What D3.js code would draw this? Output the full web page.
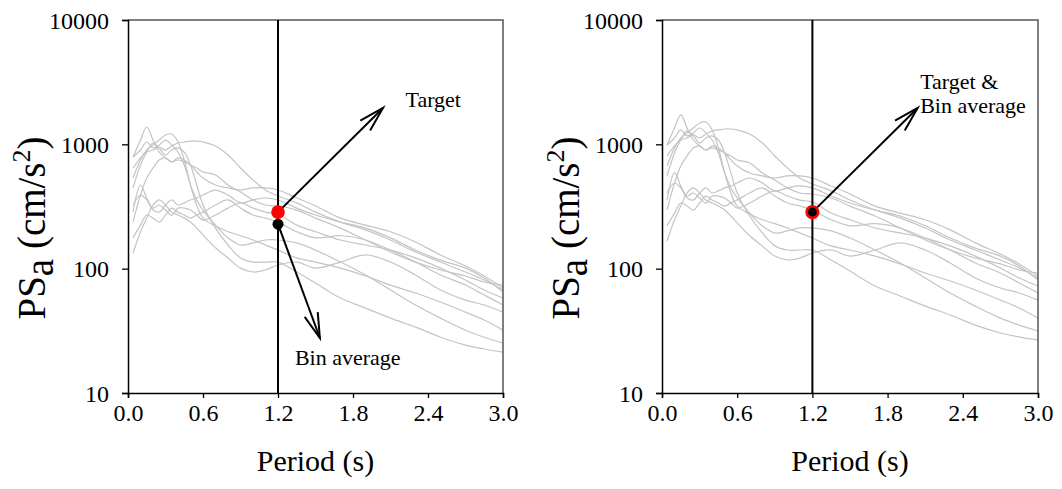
<!DOCTYPE html>
<html>
<head>
<meta charset="utf-8">
<script src="https://cdn.jsdelivr.net/npm/d3@7"></script>
<style>
  body { margin: 0; background: #fff; }
  svg { display: block; }
  text { font-family: "Liberation Serif", "Times New Roman", serif; fill: #000; }
</style>
</head>
<body>
<svg id="chart" width="1062" height="489"></svg>
<script>
// Spectral periods (s) at which each record's pseudo-spectral acceleration is listed
const periods = [0.04, 0.1, 0.15, 0.2, 0.25, 0.3, 0.35, 0.4, 0.45, 0.5, 0.55, 0.6, 0.7, 0.8, 0.9,
                 1.0, 1.1, 1.2, 1.35, 1.5, 1.7, 1.9, 2.1, 2.3, 2.5, 2.7, 2.85, 3.0];

// PSa (cm/s^2) of the recorded ground motions in the bin
const record01 = [645, 777, 867, 900, 952, 900, 970, 1025, 1044, 1063, 1063, 1044, 970, 821, 645,
                  517, 429, 384, 338, 285, 237, 205, 170, 136, 113, 94, 81, 67.3];
const record02 = [791, 1083, 1378, 1083, 867, 777, 721, 748, 721, 682, 599, 536, 471, 446, 429,
                  446, 446, 429, 370, 319, 255, 224, 198, 164, 129, 105, 87.3, 69.8];
const record03 = [536, 748, 900, 988, 1083, 1189, 1211, 1044, 748, 471, 325, 255, 220, 198, 184,
                  170, 155, 141, 122, 113, 101, 87.3, 73.8, 63.7, 53.9, 44.7, 38.6, 32.0];
const record04 = [446, 682, 867, 1025, 935, 821, 900, 935, 867, 682, 471, 325, 212, 155, 122,
                  113, 113, 113, 94, 76.6, 58.0, 48.2, 40.0, 33.9, 28.1, 24.3, 22.6, 21.3];
const record05 = [325, 391, 357, 296, 285, 325, 357, 325, 338, 357, 370, 391, 429, 391, 338,
                  357, 370, 357, 307, 270, 237, 212, 177, 141, 117, 101, 84.1, 64.9];
const record06 = [285, 471, 370, 307, 325, 296, 270, 307, 307, 296, 270, 246, 270, 307, 338,
                  307, 285, 275, 224, 198, 170, 155, 141, 122, 101, 81.0, 67.3, 58.0];
const record07 = [133, 198, 255, 325, 357, 325, 285, 270, 255, 237, 212, 187, 147, 122, 101,
                  94, 97.5, 107, 113, 101, 113, 129, 113, 88.9, 67.3, 55.9, 51.0, 44.7];
const record08 = [177, 224, 270, 255, 237, 270, 307, 285, 270, 255, 270, 285, 325, 357, 307,
                  270, 255, 237, 198, 177, 184, 170, 141, 113, 88.9, 73.8, 61.3, 51.0];
const record09 = [791, 900, 1044, 935, 988, 1083, 988, 867, 682, 471, 357, 296, 224, 177, 155,
                  161, 170, 170, 161, 141, 113, 88.9, 67.3, 51.0, 40.0, 32.0, 28.1, 25.2];
const record10 = [237, 391, 536, 645, 748, 777, 721, 777, 748, 682, 645, 599, 567, 471, 413,
                  357, 325, 319, 296, 255, 212, 170, 136, 113, 97.5, 87.3, 78.1, 73.8];

const records = [record01, record02, record03, record04, record05,
                 record06, record07, record08, record09, record10];

// Conditioning period and the two spectral values compared there
const targetPeriod = 1.2;
const targetPSa = 285;      // target spectrum value (cm/s^2)
const binAveragePSa = 228;  // average of the unscaled records (cm/s^2)

// Axis ticks
const xTicks = [0.0, 0.6, 1.2, 1.8, 2.4, 3.0];
const yTicks = [10, 100, 1000, 10000];

// ---------------------------------------------------------------------------
const svg = d3.select("#chart");
const plotTop = 20, plotBottom = 393;

const panels = [
  { left: 128, right: 503, scale: 1, merged: false,
    callouts: [
      { from: targetPSa, to: [2.04, 1960], lines: ["Target"], at: [2.22, 2000] },
      { from: binAveragePSa, to: [1.535, 27.7], lines: ["Bin average"], at: [1.335, 16.9] }
    ] },
  { left: 662, right: 1038, scale: targetPSa / binAveragePSa, merged: true,
    callouts: [
      { from: targetPSa, to: [2.04, 1960], lines: ["Target &", "Bin average"], at: [2.06, 2780] }
    ] }
];

const line = d3.line().curve(d3.curveCatmullRom.alpha(0.5));

function arrow(g, x1, y1, x2, y2) {
  const ang = Math.atan2(y1 - y2, x1 - x2);
  const len = 26, spread = 0.27;
  g.append("line").attr("x1", x1).attr("y1", y1).attr("x2", x2).attr("y2", y2)
    .attr("stroke", "#000").attr("stroke-width", 2);
  g.append("path")
    .attr("d", `M${x2 + len * Math.cos(ang - spread)},${y2 + len * Math.sin(ang - spread)}` +
               `L${x2},${y2}` +
               `L${x2 + len * Math.cos(ang + spread)},${y2 + len * Math.sin(ang + spread)}`)
    .attr("fill", "none").attr("stroke", "#000").attr("stroke-width", 2);
}

panels.forEach((p, i) => {
  const x = d3.scaleLinear().domain([0, 3]).range([p.left, p.right]);
  const y = d3.scaleLog().domain([10, 10000]).range([plotBottom, plotTop]);
  const g = svg.append("g");

  const clipId = "clip" + i;
  g.append("clipPath").attr("id", clipId)
    .append("rect").attr("x", p.left).attr("y", plotTop)
    .attr("width", p.right - p.left).attr("height", plotBottom - plotTop);

  // Spectra of the individual records (scaled on the right panel)
  g.append("g").attr("clip-path", `url(#${clipId})`)
    .selectAll("path").data(records).join("path")
    .attr("d", r => line(r.map((v, k) => [x(periods[k]), y(v * p.scale)])))
    .attr("fill", "none").attr("stroke", "#c4c4c4").attr("stroke-width", 1.2);

  // Frame
  g.append("path")
    .attr("d", `M${p.left},${plotTop}H${p.right}V${plotBottom}`)
    .attr("fill", "none").attr("stroke", "#555").attr("stroke-width", 1.5);

  // Axes
  const xAxis = d3.axisBottom(x).tickValues(xTicks).tickSize(5).tickPadding(6)
    .tickFormat(d3.format(".1f"));
  const gx = g.append("g").attr("transform", `translate(0,${plotBottom})`).call(xAxis);
  const yAxis = d3.axisLeft(y).tickValues(yTicks).tickSize(6).tickPadding(13)
    .tickFormat(d3.format("d"));
  const gy = g.append("g").attr("transform", `translate(${p.left},0)`).call(yAxis);
  [gx, gy].forEach(a => {
    a.select(".domain").attr("stroke", "#000").attr("stroke-width", 1.5);
    a.selectAll(".tick line").attr("stroke", "#000").attr("stroke-width", 1.3);
    a.selectAll(".tick text").attr("font-size", 24)
      .attr("font-family", "Liberation Serif, Times New Roman, serif").attr("fill", "#000");
  });
  gy.selectAll(".tick text").attr("dy", "0.34em");

  // Conditioning period
  g.append("line").attr("x1", x(targetPeriod)).attr("x2", x(targetPeriod))
    .attr("y1", plotTop).attr("y2", plotBottom).attr("stroke", "#000").attr("stroke-width", 2);

  // Axis titles
  g.append("text").attr("x", (p.left + p.right) / 2).attr("y", 471)
    .attr("text-anchor", "middle").attr("font-size", 30).text("Period (s)");

  const yt = g.append("text")
    .attr("transform", `translate(${p.left - 83},${228}) rotate(-90)`)
    .attr("text-anchor", "middle").attr("font-size", 39);
  yt.append("tspan").text("PS");
  yt.append("tspan").attr("dy", 8).text("a");
  yt.append("tspan").attr("dy", -8).text(" (cm/s");
  yt.append("tspan").attr("dy", -15).attr("font-size", 26).text("2");
  yt.append("tspan").attr("dy", 15).text(")");

  // Callout arrows and labels
  p.callouts.forEach(c => {
    arrow(g, x(targetPeriod), y(c.from), x(c.to[0]), y(c.to[1]));
    const t = g.append("text").attr("font-size", 22)
      .attr("x", x(c.at[0])).attr("y", y(c.at[1]));
    c.lines.forEach((s, k) => t.append("tspan").attr("x", x(c.at[0])).attr("dy", k ? 24 : 0).text(s));
  });

  // Target and bin-average markers
  if (p.merged) {
    g.append("circle").attr("cx", x(targetPeriod)).attr("cy", y(targetPSa)).attr("r", 5.8)
      .attr("fill", "#000").attr("stroke", "#f00").attr("stroke-width", 2.6);
  } else {
    g.append("circle").attr("cx", x(targetPeriod)).attr("cy", y(targetPSa)).attr("r", 6.8)
      .attr("fill", "#f00");
    g.append("circle").attr("cx", x(targetPeriod)).attr("cy", y(binAveragePSa)).attr("r", 5.5)
      .attr("fill", "#000");
  }
});
</script>
</body>
</html>
